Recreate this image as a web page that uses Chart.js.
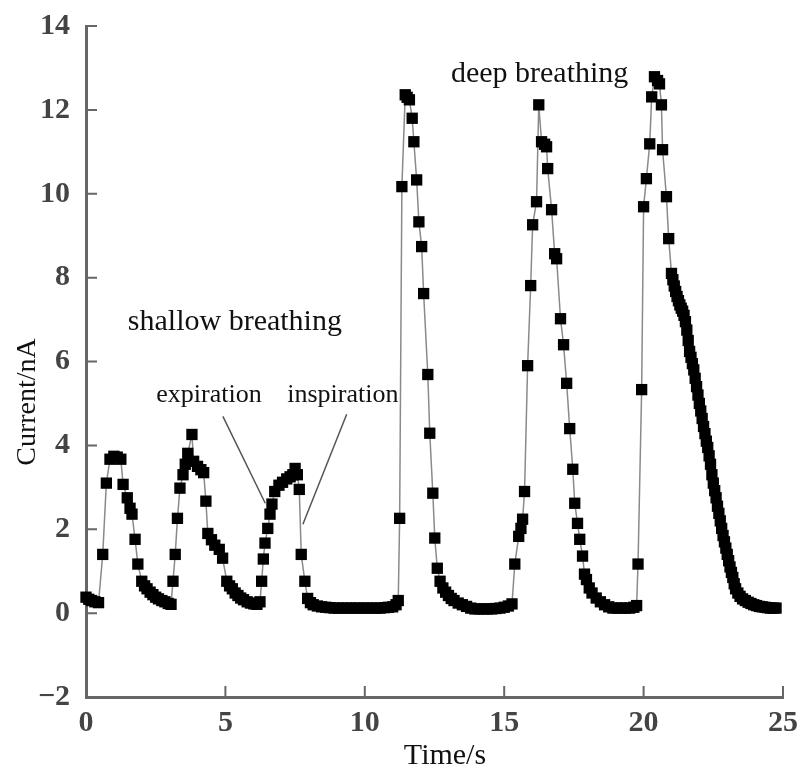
<!DOCTYPE html>
<html>
<head>
<meta charset="utf-8">
<script src="https://cdn.jsdelivr.net/npm/chart.js@4.4.1/dist/chart.umd.min.js"></script>
<style>
  html, body { margin: 0; padding: 0; background: #fff; }
  #wrap { width: 798px; height: 773px; }
</style>
</head>
<body>
<div id="wrap"><canvas id="breathGraph" width="798" height="773"></canvas></div>
<script>
// Time (s) and current (nA)
const times = [
  0.00, 0.10, 0.20, 0.32, 0.45, 0.60, 0.73, 0.86, 1.00, 1.12, 1.25, 1.33, 1.48, 1.58, 1.65, 1.76, 1.86,
  2.00, 2.10, 2.19, 2.30, 2.40, 2.50, 2.60, 2.72, 2.83, 2.95, 3.05,
  3.12, 3.20, 3.28, 3.37, 3.48, 3.56, 3.65, 3.80, 3.86, 4.00, 4.12, 4.22, 4.30, 4.37, 4.50, 4.62, 4.78, 4.90,
  5.05, 5.15, 5.25, 5.35, 5.45, 5.55, 5.65, 5.78, 5.90, 6.02, 6.13, 6.24,
  6.30, 6.36, 6.42, 6.52, 6.60, 6.67, 6.77, 6.92, 7.05, 7.20, 7.32, 7.42, 7.50, 7.58, 7.65, 7.72, 7.85, 7.95,
  8.05, 8.15, 8.30, 8.45, 8.60, 8.75, 8.90, 9.05, 9.20, 9.35, 9.50, 9.65, 9.80, 9.95, 10.10, 10.25, 10.40,
  10.55, 10.70, 10.85, 11.00, 11.12, 11.20,
  11.25, 11.33, 11.45, 11.52, 11.60, 11.70, 11.76, 11.86, 11.94, 12.04, 12.11, 12.26, 12.33, 12.44, 12.51,
  12.60, 12.70, 12.80, 12.90, 13.00, 13.10, 13.20, 13.35, 13.50, 13.65, 13.80, 13.95, 14.10, 14.25, 14.40,
  14.55, 14.70, 14.85, 15.00, 15.15, 15.28,
  15.38, 15.52, 15.60, 15.66, 15.73, 15.84, 15.95, 16.02, 16.16, 16.24, 16.34, 16.45, 16.52, 16.56, 16.70,
  16.81, 16.88, 17.02, 17.13, 17.24, 17.35, 17.46, 17.53, 17.63, 17.71, 17.81, 17.88,
  17.95, 18.05, 18.15, 18.30, 18.45, 18.60, 18.75, 18.90, 19.05, 19.20, 19.35, 19.50, 19.65, 19.75,
  19.80, 19.93, 20.00, 20.10, 20.22, 20.29, 20.39, 20.50, 20.57, 20.64, 20.68, 20.82, 20.90,
  21.00, 21.05, 21.10, 21.15, 21.20, 21.25, 21.30, 21.35, 21.40, 21.45, 21.50, 21.55, 21.60, 21.65, 21.70,
  21.75, 21.80, 21.85, 21.90, 21.95, 22.00, 22.05, 22.10, 22.15, 22.20, 22.25, 22.30, 22.35, 22.40, 22.45,
  22.50, 22.55, 22.60, 22.65, 22.70, 22.75, 22.80, 22.85, 22.90, 22.95, 23.00, 23.05, 23.10, 23.15, 23.20,
  23.25, 23.30, 23.38, 23.46, 23.55, 23.65, 23.75, 23.85, 23.95, 24.05, 24.15, 24.25, 24.35, 24.45, 24.55,
  24.65, 24.75
];
const currents = [
  0.38, 0.33, 0.30, 0.27, 0.25, 1.40, 3.10, 3.67, 3.74, 3.72, 3.67, 3.07, 2.75, 2.50, 2.36, 1.76, 1.17,
  0.76, 0.65, 0.58, 0.50, 0.44, 0.38, 0.34, 0.30, 0.27, 0.23, 0.21,
  0.76, 1.40, 2.26, 2.98, 3.30, 3.55, 3.81, 4.26, 3.62, 3.50, 3.42, 3.35, 2.67, 1.90, 1.75, 1.62, 1.52, 1.31,
  0.76, 0.65, 0.58, 0.48, 0.42, 0.36, 0.32, 0.27, 0.24, 0.22, 0.21, 0.27,
  0.76, 1.29, 1.67, 2.02, 2.36, 2.60, 2.90, 3.05, 3.12, 3.20, 3.25, 3.30, 3.45, 3.30, 2.95, 1.40, 0.76, 0.35,
  0.25, 0.20, 0.17, 0.15, 0.14, 0.13, 0.12, 0.12, 0.12, 0.12, 0.12, 0.12, 0.12, 0.12, 0.12, 0.12, 0.12,
  0.12, 0.13, 0.14, 0.15, 0.20, 0.30,
  2.26, 10.17, 12.36, 12.30, 12.24, 11.80, 11.24, 10.33, 9.33, 8.74, 7.62, 5.69, 4.29, 2.86, 1.79,
  1.07, 0.76, 0.60, 0.50, 0.42, 0.35, 0.30, 0.24, 0.20, 0.16, 0.12, 0.10, 0.10, 0.10, 0.10,
  0.10, 0.11, 0.12, 0.14, 0.17, 0.22,
  1.17, 1.83, 2.02, 2.24, 2.90, 5.90, 7.81, 9.26, 9.81, 12.12, 11.24, 11.18, 11.12, 10.60, 9.62,
  8.57, 8.45, 7.02, 6.40, 5.48, 4.40, 3.43, 2.62, 2.14, 1.76, 1.36, 0.93,
  0.80, 0.60, 0.48, 0.36, 0.27, 0.20, 0.15, 0.12, 0.12, 0.12, 0.12, 0.12, 0.14, 0.18,
  1.17, 5.33, 9.69, 10.36, 11.19, 12.31, 12.79, 12.70, 12.62, 12.12, 11.05, 9.93, 8.93,
  8.10, 7.95, 7.80, 7.67, 7.55, 7.45, 7.35, 7.27, 7.20, 7.10, 6.95, 6.75, 6.50, 6.24, 6.10,
  5.95, 5.80, 5.60, 5.40, 5.20, 5.00, 4.82, 4.64, 4.45, 4.28, 4.10, 3.95, 3.75, 3.55, 3.30,
  3.10, 2.92, 2.75, 2.55, 2.38, 2.20, 2.02, 1.85, 1.70, 1.55, 1.40, 1.25, 1.10, 0.97, 0.85,
  0.70, 0.58, 0.48, 0.40, 0.34, 0.30, 0.26, 0.23, 0.20, 0.18, 0.16, 0.15, 0.14, 0.13, 0.12,
  0.12, 0.12
];
const xTicks = [0, 5, 10, 15, 20, 25];
const yTicks = [-2, 0, 2, 4, 6, 8, 10, 12, 14];

// annotations in data units: [text, t, current, font size]
const notes = [
  ['shallow breathing', 5.34, 6.95, 30],
  ['expiration', 4.41, 5.19, 26],
  ['inspiration', 9.21, 5.19, 26],
  ['deep breathing', 16.27, 12.86, 30]
];
const pointers = [
  [4.91, 4.69, 6.43, 2.62],
  [9.35, 4.74, 7.78, 2.12]
];

const points = times.map((t, i) => ({ x: t, y: currents[i] }));

// inward tick marks, axis titles, label text and pointer lines
const extras = {
  id: 'extras',
  afterDraw(chart) {
    const { ctx, chartArea, scales: { x, y } } = chart;
    ctx.save();
    ctx.strokeStyle = '#666';
    ctx.lineWidth = 2;
    ctx.beginPath();
    xTicks.forEach(v => {
      const px = x.getPixelForValue(v);
      ctx.moveTo(px, chartArea.bottom);
      ctx.lineTo(px, chartArea.bottom - 11);
    });
    yTicks.forEach(v => {
      const py = y.getPixelForValue(v);
      ctx.moveTo(chartArea.left, py);
      ctx.lineTo(chartArea.left + 11, py);
    });
    ctx.stroke();

    ctx.strokeStyle = '#555';
    ctx.lineWidth = 1.5;
    ctx.beginPath();
    pointers.forEach(p => {
      ctx.moveTo(x.getPixelForValue(p[0]), y.getPixelForValue(p[1]));
      ctx.lineTo(x.getPixelForValue(p[2]), y.getPixelForValue(p[3]));
    });
    ctx.stroke();

    ctx.fillStyle = '#111';
    ctx.textAlign = 'center';
    ctx.textBaseline = 'middle';
    notes.forEach(n => {
      ctx.font = n[3] + 'px "Liberation Serif"';
      ctx.fillText(n[0], x.getPixelForValue(n[1]), y.getPixelForValue(n[2]));
    });

    // axis titles
    ctx.font = '30px "Liberation Serif"';
    ctx.fillText('Time/s', 445, 756);
    ctx.translate(28, 402);
    ctx.rotate(-Math.PI / 2);
    ctx.font = '28px "Liberation Serif"';
    ctx.fillText('Current/nA', 0, 0);
    ctx.restore();
  }
};

const ctx = document.getElementById('breathGraph');
new Chart(ctx, {
  type: 'scatter',
  data: {
    datasets: [{
      data: points,
      showLine: true,
      borderColor: '#8a8a8a',
      borderWidth: 1.5,
      pointStyle: 'rect',
      pointRadius: 8,
      pointBackgroundColor: '#000',
      pointBorderColor: '#000',
      pointBorderWidth: 0,
      clip: false
    }]
  },
  options: {
    responsive: false,
    animation: false,
    layout: { padding: { top: 24, right: 15, left: 0, bottom: 0 } },
    plugins: { legend: { display: false }, tooltip: { enabled: false } },
    scales: {
      x: {
        type: 'linear',
        min: 0,
        max: 25,
        afterFit: s => { s.height = 76; },
        afterBuildTicks: s => { s.ticks = xTicks.map(v => ({ value: v })); },
        grid: { display: false },
        border: { display: true, color: '#666', width: 3 },
        ticks: { padding: 0, color: '#444', font: { family: 'Liberation Serif', size: 30, weight: 'bold' } }
      },
      y: {
        min: -2,
        max: 14,
        afterFit: s => { s.width = 86; },
        afterBuildTicks: s => { s.ticks = yTicks.map(v => ({ value: v })); },
        grid: { display: false },
        border: { display: true, color: '#666', width: 3 },
        ticks: {
          padding: 8, color: '#444',
          font: { family: 'Liberation Serif', size: 30, weight: 'bold' },
          callback: v => String(v).replace('-', '\u2212')
        }
      }
    }
  },
  plugins: [extras]
});
</script>
</body>
</html>
